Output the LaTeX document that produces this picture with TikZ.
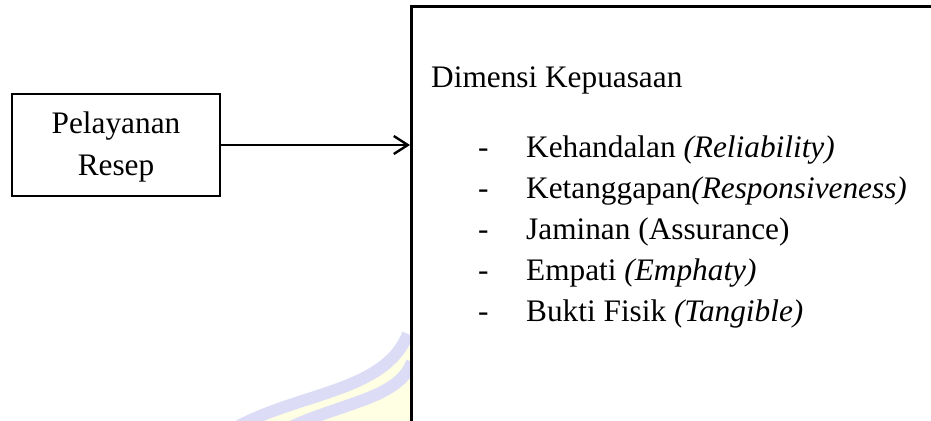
\documentclass[tikz,border=0pt]{standalone}
\usepackage{fontspec}
\setmainfont{Liberation Serif}
\usetikzlibrary{arrows.meta}
\begin{document}
\begin{tikzpicture}[x=1bp,y=-1bp,
  txt/.style={font=\fontsize{31.3bp}{42bp}\selectfont, inner sep=0pt},
  boxline/.style={draw=black, line width=2.6bp},
  wmband/.style={draw=wmlav, line width=12bp},
]
\definecolor{wmlav}{HTML}{DCDCF6}
\definecolor{wmyel}{HTML}{FFFFE4}
\useasboundingbox (0,0) rectangle (931,420);
\clip (0,0) rectangle (931,420);
% watermark (faint, behind the large box)
\fill[wmyel] (408,334) .. controls (385,392) and (300,392) .. (235,428) -- (420,430) -- cycle;
\draw[wmband] (408,334) .. controls (385,392) and (300,392) .. (235,428);
\draw[wmband] (412,362) .. controls (398,400) and (340,402) .. (280,432);
% large box (extends past the right and bottom edges)
\node[boxline, fill=white, rectangle, anchor=north west, minimum width=560bp, minimum height=440bp, inner sep=0pt] (dim) at (410,5) {};
% small box
\node[boxline, rectangle, minimum width=208bp, minimum height=102bp, inner sep=0pt] (pel) at (116,145) {};
\node[txt, anchor=base] (pel1) at (116,133) {Pelayanan};
\node[txt, anchor=base] (pel2) at (116,175) {Resep};
% arrow
\draw[line width=2.4bp, -{Straight Barb[length=14bp,width=18bp,line width=2.4bp]}] (pel.east) -- (pel.east -| dim.west);
% texts in the large box
\node[txt, anchor=base west] (title) at (431,87) {Dimensi Kepuasaan};
\foreach \n/\t/\yy in {
  d1/{Kehandalan \textit{(Reliability)}}/157,
  d2/{Ketanggapan\textit{(Responsiveness)}}/198,
  d3/{Jaminan (Assurance)}/239,
  d4/{Empati \textit{(Emphaty)}}/280,
  d5/{Bukti Fisik \textit{(Tangible)}}/321}{
  \node[txt, anchor=base west] (dash\n) at (478,\yy) {-};
  \node[txt, anchor=base west] (\n) at (526,\yy) {\t};
}
\end{tikzpicture}
\end{document}
